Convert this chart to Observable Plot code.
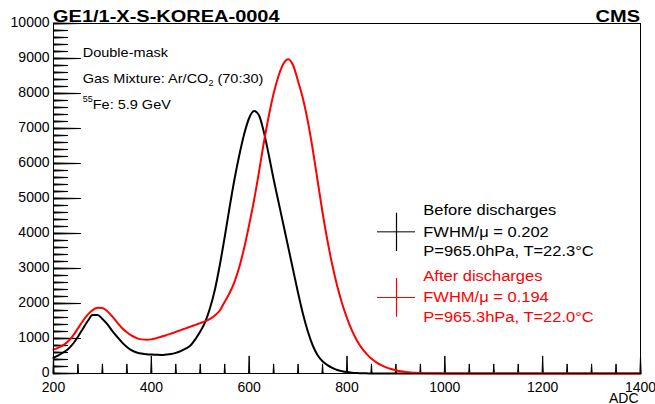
<!DOCTYPE html>
<html><head><meta charset="utf-8">
<script src="https://cdn.jsdelivr.net/npm/d3@7"></script>
<script src="https://cdn.jsdelivr.net/npm/@observablehq/plot@0.6"></script>
<style>
body{margin:0;background:#fff;}
#chart svg{display:block;}
</style></head><body><div id="chart"></div>
<script>
// ADC bin centres: 200, 210, ..., 1400
const adcBins = d3.range(200, 1401, 10);

// Before discharges (black)
const beforeCounts = [
  450, 520, 600, 700, 850, 1050, 1280, 1500, 1670, 1670,
  1560, 1410, 1220, 1050, 890, 760, 660, 600, 570, 550,
  540, 535, 530, 540, 555, 590, 640, 710, 800, 980,
  1200, 1470, 1870, 2400, 3100, 3900, 4750, 5550, 6250, 6850,
  7300, 7500, 7380, 6900, 6250, 5550, 4900, 4250, 3600, 2950,
  2300, 1700, 1200, 800, 520, 350, 240, 160, 100, 65,
  40, 25, 15, 8, 4, 2, 1, 0, 0, 0,
  0, 0, 0, 0, 0, 0, 0, 0, 0, 0,
  0, 0, 0, 0, 0, 0, 0, 0, 0, 0,
  0, 0, 0, 0, 0, 0, 0, 0, 0, 0,
  0, 0, 0, 0, 0, 0, 0, 0, 0, 0,
  0, 0, 0, 0, 0, 0, 0, 0, 0, 0,
  0
];

// After discharges (red)
const afterCounts = [
  680, 740, 810, 920, 1080, 1290, 1500, 1680, 1810, 1880,
  1870, 1780, 1630, 1460, 1300, 1180, 1080, 1010, 975, 965,
  975, 1010, 1050, 1095, 1140, 1190, 1240, 1290, 1340, 1390,
  1440, 1490, 1560, 1660, 1800, 2050, 2300, 2620, 3050, 3600,
  4250, 4950, 5750, 6600, 7350, 8000, 8500, 8850, 8980, 8800,
  8350, 7850, 7200, 6400, 5500, 4600, 3800, 3100, 2500, 2000,
  1580, 1230, 950, 730, 560, 420, 320, 240, 175, 130,
  95, 65, 45, 30, 20, 14, 10, 8, 6, 4,
  3, 2, 2, 1, 1, 1, 0, 0, 0, 0,
  0, 0, 0, 0, 0, 0, 0, 0, 0, 0,
  0, 0, 0, 0, 0, 0, 0, 0, 0, 0,
  0, 0, 0, 0, 0, 0, 0, 0, 0, 0,
  0
];

const xMajorTicks = [200, 400, 600, 800, 1000, 1200, 1400];
const xMinorTicks = [250, 300, 350, 450, 500, 550, 650, 700, 750, 850, 900, 950, 1050, 1100, 1150, 1250, 1300, 1350];
const yMajorTicks = [0, 1000, 2000, 3000, 4000, 5000, 6000, 7000, 8000, 9000, 10000];
const yMinorTicks = [200, 400, 600, 800, 1200, 1400, 1600, 1800, 2200, 2400, 2600, 2800, 3200, 3400, 3600, 3800,
  4200, 4400, 4600, 4800, 5200, 5400, 5600, 5800, 6200, 6400, 6600, 6800, 7200, 7400, 7600, 7800,
  8200, 8400, 8600, 8800, 9200, 9400, 9600, 9800];

const titleText = "GE1/1-X-S-KOREA-0004";
const cmsText = "CMS";
const legendBefore = ["Before discharges", "FWHM/\u03bc = 0.202", "P=965.0hPa, T=22.3\u00b0C"];
const legendAfter = ["After discharges", "FWHM/\u03bc = 0.194", "P=965.3hPa, T=22.0\u00b0C"];

const before = adcBins.map((adc, i) => ({adc, counts: beforeCounts[i]}));
const after = adcBins.map((adc, i) => ({adc, counts: afterCounts[i]}));

const FONT = "'Liberation Sans', Arial, Helvetica, sans-serif";
const W = 655, H = 404, ML = 53, MR = 15, MT = 23, MB = 31;

const xTickRows = [
  ...xMajorTicks.map(v => ({v, len: 11})),
  ...xMinorTicks.map(v => ({v, len: 6}))
];
const yTickRows = [
  ...yMajorTicks.map(v => ({v, len: 17})),
  ...yMinorTicks.map(v => ({v, len: 9}))
];

const plot = Plot.plot({
  width: W,
  height: H,
  marginLeft: ML,
  marginRight: MR,
  marginTop: MT,
  marginBottom: MB,
  style: {fontFamily: FONT, fontSize: "14px", color: "#000", background: "#fff"},
  x: {domain: [200, 1400]},
  y: {domain: [0, 10000]},
  marks: [
    Plot.axisX({ticks: xMajorTicks, tickSize: 0, tickPadding: 9, tickFormat: d => String(d), label: null, fontSize: 14, fill: "#000"}),
    Plot.axisY({ticks: yMajorTicks, tickSize: 0, tickPadding: 4, tickFormat: d => String(d), label: null, fontSize: 14, fill: "#000", dy: -0.5}),
    // inward ticks (ROOT style) as small text-free vectors anchored to the frame edges
    Plot.vector(xTickRows, {x: "v", frameAnchor: "bottom", length: "len", rotate: 0, anchor: "start", shape: "spike", r: 0.6, stroke: "#000", fill: "#000", strokeWidth: 1}),
    Plot.vector(yTickRows, {y: "v", frameAnchor: "left", length: "len", rotate: 90, anchor: "start", shape: "spike", r: 0.6, stroke: "#000", fill: "#000", strokeWidth: 1}),
    Plot.line(before, {x: "adc", y: "counts", stroke: "#000", strokeWidth: 2, curve: "monotone-x"}),
    Plot.line(after, {x: "adc", y: "counts", stroke: "#ff0000", strokeWidth: 2, curve: "monotone-x"}),
    Plot.frame({stroke: "#000", strokeWidth: 1}),
    Plot.text(["ADC"], {frameAnchor: "bottom-right", dx: -2, dy: 25.5, textAnchor: "end", lineAnchor: "middle", fontSize: 14, fill: "#000"})
  ]
});

document.getElementById("chart").appendChild(plot);

const svg = d3.select(plot);

function addText(x, y, parts, {size = 14, weight = "normal", anchor = "start", fill = "#000", sy = 1} = {}) {
  const g = svg.append("g").attr("transform", `translate(${x},${y}) scale(1,${sy})`);
  const t = g.append("text")
    .attr("text-anchor", anchor)
    .attr("font-family", FONT)
    .attr("font-size", size)
    .attr("font-weight", weight)
    .attr("fill", fill);
  let shift = 0;
  for (const p of (typeof parts === "string" ? [{t: parts}] : parts)) {
    const ts = t.append("tspan").text(p.t);
    const target = p.sup ? -7.5 : p.sub ? 3 : 0;
    if (target !== shift) { ts.attr("dy", target - shift); shift = target; }
    if (p.sup || p.sub) ts.attr("font-size", 9);
  }
}

addText(53, 21.7, titleText, {size: 20, weight: "bold", sy: 0.86});
addText(640, 21.7, cmsText, {size: 20, weight: "bold", anchor: "end", sy: 0.86});

addText(82.7, 57.3, "Double-mask", {size: 14.5, sy: 0.93});
addText(82.7, 83.3, [{t: "Gas Mixture: Ar/CO"}, {t: "2", sub: true}, {t: " (70:30)"}], {size: 14.5, sy: 0.93});
addText(82.7, 109.3, [{t: "55", sup: true}, {t: "Fe: 5.9 GeV"}], {size: 14.5, sy: 0.93});

const legendYBefore = [215.3, 236.7, 255.7];
const legendYAfter = [281, 302.3, 322.3];
legendBefore.forEach((s, i) => addText(423.3, legendYBefore[i], s, {size: 16.5, sy: 0.89}));
legendAfter.forEach((s, i) => addText(423.3, legendYAfter[i], s, {size: 16.5, sy: 0.89, fill: "#ff0000"}));

// legend markers
const lg = svg.append("g");
lg.append("line").attr("x1", 377).attr("x2", 415).attr("y1", 231.7).attr("y2", 231.7).attr("stroke", "#555").attr("stroke-width", 1.5);
lg.append("line").attr("x1", 396.5).attr("x2", 396.5).attr("y1", 212.7).attr("y2", 251).attr("stroke", "#000").attr("stroke-width", 1.2);
lg.append("line").attr("x1", 377).attr("x2", 415).attr("y1", 297.5).attr("y2", 297.5).attr("stroke", "#ff0000").attr("stroke-width", 1);
lg.append("line").attr("x1", 396.5).attr("x2", 396.5).attr("y1", 278).attr("y2", 316.7).attr("stroke", "#ff0000").attr("stroke-width", 1.2);
</script>
</body></html>
